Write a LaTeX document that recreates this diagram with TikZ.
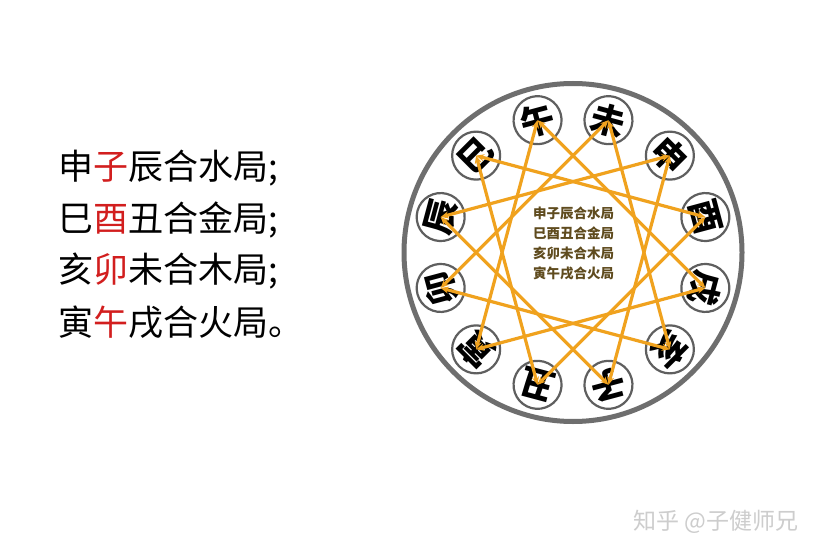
\documentclass[tikz,border=0pt]{standalone}
\usepackage{fontspec}
\newfontfamily\cjk{Noto Sans CJK SC}
\usetikzlibrary{arrows.meta}
\definecolor{starorange}{RGB}{240,162,30}
\definecolor{ringgray}{RGB}{110,110,110}
\definecolor{smallgray}{RGB}{95,95,95}
\definecolor{redchar}{RGB}{210,30,30}
\definecolor{innerbrown}{RGB}{95,75,30}
\definecolor{markgray}{RGB}{205,205,205}
\begin{document}
\begin{tikzpicture}[x=1pt,y=1pt,
  branch/.style={circle,draw=smallgray,line width=2.2pt,minimum size=48pt,inner sep=0pt,fill=white,
    font=\cjk\bfseries\fontsize{34}{34}\selectfont},
  starline/.style={draw=starorange,line width=3.2pt,{Stealth[length=8pt,width=7pt]}-{Stealth[length=8pt,width=7pt]}},
  lefttext/.style={anchor=west,inner sep=0pt,font=\cjk\fontsize{35}{35}\selectfont},
  innertext/.style={inner sep=0pt,font=\cjk\bfseries\fontsize{13.5}{13.5}\selectfont,text=innerbrown}]
\useasboundingbox (0,0) rectangle (837,555);
\fill[white] (0,0) rectangle (837,555);
\node[circle,draw=ringgray,line width=5pt,minimum size=338pt,inner sep=0pt] (ring) at (573,302.5) {};
\foreach \a/\t/\n in {105/午/wu,75/未/wei,45/申/shen,15/酉/you,-15/戌/xu,-45/亥/hai,
                      -75/子/zi,-105/丑/chou,-135/寅/yin,-165/卯/mao,165/辰/chen,135/巳/si}
  \node[branch,rotate=\a-90] (\n) at ([shift={(\a:137)}]573,302.5) {\t};
% 申子辰
\draw[starline] (shen.center) -- (zi.center);
\draw[starline] (zi.center) -- (chen.center);
\draw[starline] (chen.center) -- (shen.center);
% 巳酉丑
\draw[starline] (si.center) -- (you.center);
\draw[starline] (you.center) -- (chou.center);
\draw[starline] (chou.center) -- (si.center);
% 亥卯未
\draw[starline] (hai.center) -- (mao.center);
\draw[starline] (mao.center) -- (wei.center);
\draw[starline] (wei.center) -- (hai.center);
% 寅午戌
\draw[starline] (yin.center) -- (wu.center);
\draw[starline] (wu.center) -- (xu.center);
\draw[starline] (xu.center) -- (yin.center);
% inner text
\node[innertext] (t1) at (573.5,342) {申子辰合水局};
\node[innertext] (t2) at (573.5,322) {巳酉丑合金局};
\node[innertext] (t3) at (573.5,302) {亥卯未合木局};
\node[innertext] (t4) at (573.5,282) {寅午戌合火局};
% left text
\node[lefttext] (l1) at (58,387) {申\textcolor{redchar}{子}辰合水局;};
\node[lefttext] (l2) at (58,335.5) {巳\textcolor{redchar}{酉}丑合金局;};
\node[lefttext] (l3) at (58,284) {亥\textcolor{redchar}{卯}未合木局;};
\node[lefttext] (l4) at (58,232.5) {寅\textcolor{redchar}{午}戌合火局。};
% watermark
\node[anchor=west,inner sep=0pt,font=\cjk\fontsize{23}{23}\selectfont,text=markgray] (mark) at (633,33) {知乎 @子健师兄};
\end{tikzpicture}
\end{document}
